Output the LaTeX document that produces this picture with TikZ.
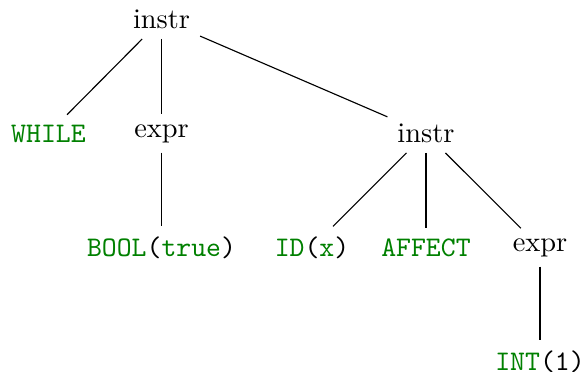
\documentclass[tikz,border=0pt]{standalone}
\usepackage{tikz}
\usetikzlibrary{graphs}
\newcommand{\tok}[1]{\textcolor{green!50!black}{\texttt{#1}}}

\begin{document}
\begin{tikzpicture}
    \useasboundingbox (-2,-4.364) rectangle (5.206,0.241);
    \node (I) at (0,0) {instr} ;
    \node (W) at (-1.4,-1.411) {\tok{WHILE}} ;
    \node (E) at (0,-1.411) {expr} ;
    \node (J) at (3.274,-1.411) {instr} ;
    \node (B) at (0,-2.822) {\tok{BOOL}\texttt{(}\tok{true}\texttt{)}} ;
    \node (X) at (1.863,-2.822) {\tok{ID}\texttt{(}\tok{x}\texttt{)}} ;
    \node (A) at (3.274,-2.822) {\tok{AFFECT}} ;
    \node (F) at (4.686,-2.822) {expr} ;
    \node (N) at (4.686,-4.233) {\tok{INT}\texttt{(1)}} ;

    \graph[use existing nodes] {
        I -- {W, E, J} ;
        E -- B ;
        J -- {X, A, F} ;
        F -- N ;
    } ;
\end{tikzpicture}
\end{document}
